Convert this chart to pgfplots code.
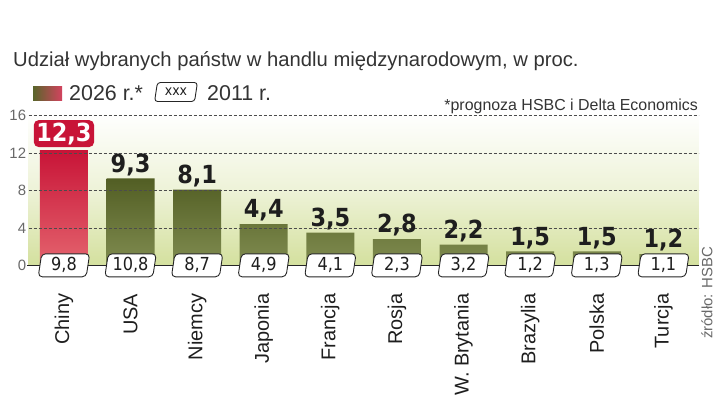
\documentclass[border=0pt]{standalone}
\usepackage{pgfplots}
\pgfplotsset{compat=1.18}
\usepackage{fontspec}
\setmainfont{Liberation Sans}
\newfontfamily\cond{DejaVu Sans Condensed}
\definecolor{gtop}{RGB}{82,94,36}
\definecolor{gbot}{RGB}{128,140,80}
\definecolor{rtop}{RGB}{200,20,55}
\definecolor{rbot}{RGB}{228,100,110}
\definecolor{bgbot}{RGB}{212,224,158}
\definecolor{txt}{RGB}{30,30,30}
\definecolor{gr}{RGB}{105,105,105}
\begin{document}
\begin{tikzpicture}[x=1bp,y=1bp]
\path[use as bounding box] (0,0) rectangle (720,399);
\begin{axis}[
  at={(43,143)}, anchor=south west,
  scale only axis, width=670bp, height=152.4bp,
  xmin=-0.53, xmax=9.53, ymin=0, ymax=16.3,
  clip=false,
  axis background/.style={top color=white, bottom color=bgbot, middle color=white!60!bgbot},
  axis x line*=bottom, axis y line*=left,
  y axis line style={draw=none},
  x axis line style={draw=none},
  major tick length=0,
  ytick={0,4,8,12,16},
  yticklabel style={font=\fontsize{15}{15}\selectfont, color=gr, xshift=1bp},
  /pgf/number format/assume math mode=true,
  xtick={0,...,9},
  xticklabels={Chiny,USA,Niemcy,Japonia,Francja,Rosja,W. Brytania,Brazylia,Polska,Turcja},
  xticklabel style={rotate=90, anchor=east, font=\fontsize{20}{20}\selectfont, color=txt},
  xticklabel shift=25bp,
]
% bars 2026
\addplot[ybar, bar width=48bp, bar shift=0pt, draw=none, top color=gtop, bottom color=gbot]
  coordinates {(1,9.3) (2,8.1) (3,4.4) (4,3.5) (5,2.8) (6,2.2) (7,1.5) (8,1.5) (9,1.2)};
\addplot[ybar, bar width=48bp, bar shift=0pt, draw=none, top color=rtop, bottom color=rbot]
  coordinates {(0,12.3)};
% grid lines (drawn over the bars)
\pgfplotsinvokeforeach{4,8,12,16}{
  \addplot[dash pattern=on 3bp off 2bp, color=black!70, line width=0.6bp] coordinates {(-0.53,#1) (9.53,#1)};
}
% base line
\addplot[line width=1.6bp, color=black!85] coordinates {(-0.55,0) (9.53,0)};
% value labels
\addplot[only marks, mark=none, nodes near coords, point meta=explicit symbolic,
  nodes near coords style={font=\cond\bfseries\fontsize{25}{25}\selectfont, anchor=south, text=txt, inner sep=2.5bp}]
  coordinates {(1,9.3)[9,3] (2,8.1)[8,1] (3,4.4)[4,4] (4,3.5)[3,5] (5,2.8)[2,8] (6,2.2)[2,2] (7,1.5)[1,5] (8,1.5)[1,5] (9,1.2)[1,2]};
\addplot[only marks, mark=none, nodes near coords, point meta=explicit symbolic,
  nodes near coords style={font=\cond\bfseries\fontsize{25}{25}\selectfont, anchor=south, text=white, fill=rtop, rounded corners=5bp, inner sep=2.5bp, minimum width=52bp, yshift=3bp}]
  coordinates {(0,12.3)[12,3]};
% 2011 boxes
\addplot[only marks, mark=none, nodes near coords={}, 
  nodes near coords style={anchor=center, draw=black!85, line width=0.9bp, fill=white, rounded corners=4bp, minimum width=48bp, minimum height=23bp, xslant=0.15, transform shape, inner sep=0pt}]
  coordinates {(0,0) (1,0) (2,0) (3,0) (4,0) (5,0) (6,0) (7,0) (8,0) (9,0)};
\addplot[only marks, mark=none, nodes near coords, point meta=explicit symbolic,
  nodes near coords style={anchor=center, font=\cond\fontsize{18}{18}\selectfont, text=txt}]
  coordinates {(0,0)[9,8] (1,0)[10,8] (2,0)[8,7] (3,0)[4,9] (4,0)[4,1] (5,0)[2,3] (6,0)[3,2] (7,0)[1,2] (8,0)[1,3] (9,0)[1,1]};
\end{axis}
% title and legend
\node[anchor=west, font=\fontsize{20.3}{20}\selectfont, text=black!80, inner sep=0] at (13,338) {Udział wybranych państw w handlu międzynarodowym, w proc.};
\shade[left color=gtop!85!gbot, right color=rtop!80!white] (33,299) rectangle (62,313);
\node[anchor=west, font=\fontsize{21.5}{20}\selectfont, text=black!80, inner sep=0] at (69,305.5) {2026 r.*};
\node[draw=black!85, line width=0.9bp, rounded corners=3bp, minimum width=40bp, minimum height=19bp, xslant=0.15, transform shape, inner sep=0pt] at (176,307) {};
\node[font=\cond\fontsize{14}{14}\selectfont, text=txt] at (176,307) {xxx};
\node[anchor=west, font=\fontsize{21.5}{20}\selectfont, text=black!80, inner sep=0] at (207,305.5) {2011 r.};
\node[anchor=east, font=\fontsize{16}{16}\selectfont, text=black!80, inner sep=0] at (698,293) {*prognoza HSBC i Delta Economics};
\node[rotate=90, font=\fontsize{15}{15}\selectfont, text=gr, inner sep=0] at (707,106) {źródło: HSBC};
\end{tikzpicture}
\end{document}
